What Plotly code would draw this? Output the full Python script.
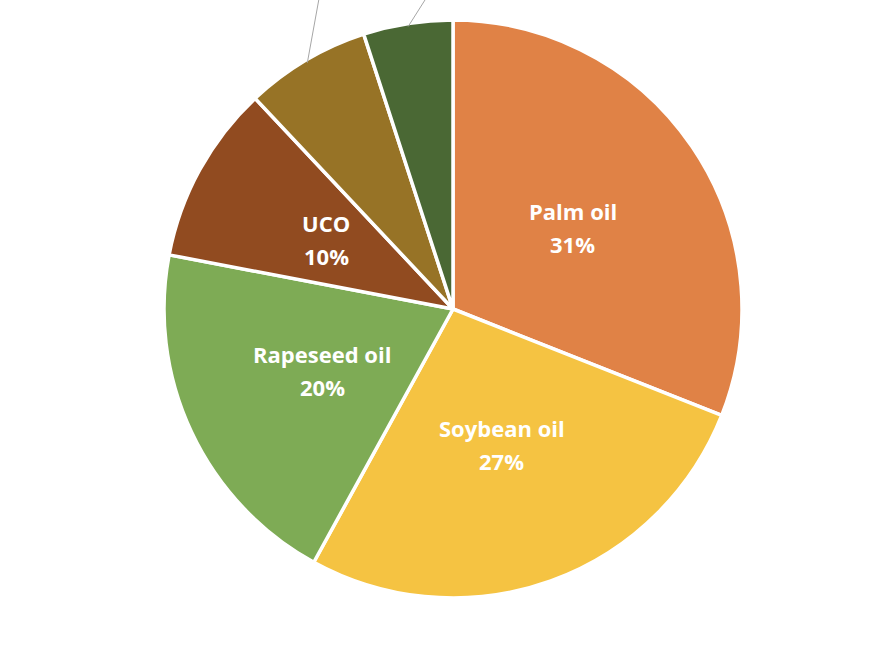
import math
import plotly.graph_objects as go

# Data
categories = ["Palm oil", "Soybean oil", "Rapeseed oil", "UCO", "Animal fats", "Other"]
values = [31, 27, 20, 10, 7, 5]
colors = ["#E08246", "#F5C342", "#7EAB55", "#914B20", "#977326", "#4A6834"]
inside_labels = [True, True, True, True, False, False]

# Layout geometry (pixels)
W, H = 878, 646
CX, CY, R = 453, 309, 289
LINE_GAP = 33
# off-canvas label anchors for outside-labelled slices (pixels)
outside_anchor = {4: (326, -40), 5: (444, -30)}

total = sum(values)

fig = go.Figure(go.Pie(
    labels=categories,
    values=values,
    sort=False,
    direction="clockwise",
    rotation=0,
    marker=dict(colors=colors, line=dict(color="white", width=3.5)),
    textinfo="none",
    hoverinfo="skip",
    showlegend=False,
    domain=dict(x=[(CX - R) / W, (CX + R) / W], y=[1 - (CY + R) / H, 1 - (CY - R) / H]),
))

font = dict(family="Open Sans, Noto Sans, sans-serif", size=22, color="white")
annotations = []
shapes = []
cum = 0
for i, (cat, v) in enumerate(zip(categories, values)):
    mid = (cum + v / 2) / total * 2 * math.pi
    cum += v
    pct = round(v / total * 100)
    if inside_labels[i]:
        r = 0.5 * R
        px = CX + r * math.sin(mid)
        py = CY - r * math.cos(mid)
        for txt, dy in ((f"<b>{cat}</b>", -LINE_GAP / 2), (f"<b>{pct}%</b>", LINE_GAP / 2)):
            annotations.append(dict(
                x=px / W, y=1 - (py + dy) / H, xref="paper", yref="paper",
                text=txt, showarrow=False, font=font, align="center",
                xanchor="center", yanchor="middle",
            ))
    else:
        sx = CX + R * 0.99 * math.sin(mid)
        sy = CY - R * 0.99 * math.cos(mid)
        ex, ey = outside_anchor[i]
        shapes.append(dict(
            type="line", xref="paper", yref="paper",
            x0=sx / W, y0=1 - sy / H, x1=ex / W, y1=1 - ey / H,
            line=dict(color="#A6A6A6", width=1),
        ))

fig.update_layout(
    width=W, height=H,
    margin=dict(l=0, r=0, t=0, b=0),
    paper_bgcolor="white",
    plot_bgcolor="white",
    annotations=annotations,
    shapes=shapes,
)

fig.write_html("out.html", config={"displayModeBar": False})
with open("out.html", "r", encoding="utf-8") as f:
    html = f.read()
html = html.replace("<head>", "<head><style>html,body{margin:0;padding:0;overflow:hidden;}</style>", 1)
with open("out.html", "w", encoding="utf-8") as f:
    f.write(html)
